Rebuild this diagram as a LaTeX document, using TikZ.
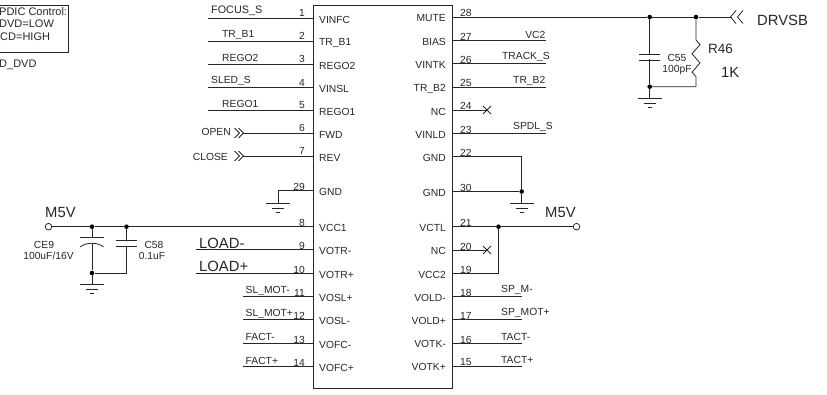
\documentclass[tikz,border=0pt]{standalone}
\usepackage{fontspec}
\setmainfont{Liberation Sans}
\tikzset{
  wire/.style={line width=0.8pt, black!85},
  dotnode/.style={circle, fill=black, inner sep=0pt, minimum size=4.6pt},
  portnode/.style={circle, draw=black!85, fill=white, line width=0.8pt, inner sep=0pt, minimum size=6.6pt},
  txt/.style={inner sep=0pt, text=black!85, font=\fontsize{10.3}{10}\selectfont},
  sig/.style={txt, anchor=west},
  pinin/.style={txt, anchor=west},
  pinout/.style={txt, anchor=east},
  numl/.style={txt, anchor=east},
  numr/.style={txt, anchor=west},
  big/.style={inner sep=0pt, text=black!85, anchor=west, font=\fontsize{14.8}{15}\selectfont},
  gndsym/.pic={
    \draw [wire] (-12,0) -- (12,0);
    \draw [wire] (-6,4.6) -- (6,4.6);
    \draw [wire] (-1.8,9.2) -- (1.8,9.2);
  },
  nomark/.pic={
    \draw [wire] (-4,-4) -- (4,4);
    \draw [wire] (-4,4) -- (4,-4);
  },
  capsym/.pic={
    \draw [wire] (-10.5,-3) -- (10.5,-3);
    \draw [wire] (-10.5,3) -- (10.5,3);
  },
  chevr/.pic={
    \draw [wire] (0,-5) -- (5,0) -- (0,5);
    \draw [wire] (4,-5) -- (9,0) -- (4,5);
  }
}
\begin{document}
\begin{tikzpicture}[x=1pt,y=-1pt]
  \useasboundingbox (0,0) rectangle (827,395);
% chip
  \node (ic) at (382.5,196.5) [draw=black!85, line width=0.8pt, minimum width=139pt, minimum height=383pt, inner sep=0pt] {};

% control box
  \draw [wire] (-5,5) rectangle (68.5,52);
  \node (boxa) at (-1,11.5) [txt, anchor=west, font=\fontsize{11}{11}\selectfont] {PDIC Control:};
  \node (boxb) at (-1,23.5) [txt, anchor=west, font=\fontsize{11}{11}\selectfont] {DVD=LOW};
  \node (boxc) at (0,36.5) [txt, anchor=west, font=\fontsize{11}{11}\selectfont] {CD=HIGH};
  \node (boxd) at (-1,64.5) [txt, anchor=west, font=\fontsize{11}{11}\selectfont] {D\_DVD};

% left pins
  \coordinate (pa1) at (313,18);      \coordinate (wa1) at (208,18);
  \coordinate (pa2) at (313,41);      \coordinate (wa2) at (208,41);
  \coordinate (pa3) at (313,64);      \coordinate (wa3) at (208,64);
  \coordinate (pa4) at (313,87.5);    \coordinate (wa4) at (208,87.5);
  \coordinate (pa5) at (313,110.5);   \coordinate (wa5) at (208,110.5);
  \coordinate (pa6) at (313,133);     \coordinate (wa6) at (243,133);
  \coordinate (pa7) at (313,156);     \coordinate (wa7) at (243,156);
  \coordinate (pa29) at (313,190);    \coordinate (wa29) at (278,190);
  \coordinate (pa8) at (313,226.7);
  \coordinate (pa9) at (313,249.5);   \coordinate (wa9) at (196,249.5);
  \coordinate (pa10) at (313,273);    \coordinate (wa10) at (196,273);
  \coordinate (pa11) at (313,296);    \coordinate (wa11) at (243,296);
  \coordinate (pa12) at (313,319.5);  \coordinate (wa12) at (243,319.5);
  \coordinate (pa13) at (313,343);    \coordinate (wa13) at (243,343);
  \coordinate (pa14) at (313,366);    \coordinate (wa14) at (243,366);
  \draw [wire] (wa1) -- (pa1);
  \draw [wire] (wa2) -- (pa2);
  \draw [wire] (wa3) -- (pa3);
  \draw [wire] (wa4) -- (pa4);
  \draw [wire] (wa5) -- (pa5);
  \draw [wire] (wa6) -- (pa6);
  \draw [wire] (wa7) -- (pa7);
  \draw [wire] (wa9) -- (pa9);
  \draw [wire] (wa10) -- (pa10);
  \draw [wire] (wa11) -- (pa11);
  \draw [wire] (wa12) -- (pa12);
  \draw [wire] (wa13) -- (pa13);
  \draw [wire] (wa14) -- (pa14);

  \node (na1) at (305,13) [numl] {1};
  \node (na2) at (305,36) [numl] {2};
  \node (na3) at (305,59) [numl] {3};
  \node (na4) at (305,82.5) [numl] {4};
  \node (na5) at (305,105.5) [numl] {5};
  \node (na6) at (305,128) [numl] {6};
  \node (na7) at (305,151) [numl] {7};
  \node (na29) at (305,186.5) [numl] {29};
  \node (na8) at (305,223) [numl] {8};
  \node (na9) at (305,246) [numl] {9};
  \node (na10) at (305,269.5) [numl] {10};
  \node (na11) at (305,292.5) [numl] {11};
  \node (na12) at (305,316) [numl] {12};
  \node (na13) at (305,339.5) [numl] {13};
  \node (na14) at (305,362.5) [numl] {14};

  \node (ina1) at (319,19.5) [pinin] {VINFC};
  \node (ina2) at (319,42.5) [pinin] {TR\_B1};
  \node (ina3) at (319,65.5) [pinin] {REGO2};
  \node (ina4) at (319,89) [pinin] {VINSL};
  \node (ina5) at (319,112) [pinin] {REGO1};
  \node (ina6) at (319,134.5) [pinin] {FWD};
  \node (ina7) at (319,157.5) [pinin] {REV};
  \node (ina29) at (319,191.5) [pinin] {GND};
  \node (ina8) at (319,228) [pinin] {VCC1};
  \node (ina9) at (319,251) [pinin] {VOTR-};
  \node (ina10) at (319,274.5) [pinin] {VOTR+};
  \node (ina11) at (319,297.5) [pinin] {VOSL+};
  \node (ina12) at (319,321) [pinin] {VOSL-};
  \node (ina13) at (319,344.5) [pinin] {VOFC-};
  \node (ina14) at (319,367.5) [pinin] {VOFC+};

  \node (sa1) at (211,11) [sig, font=\fontsize{10.8}{11}\selectfont] {FOCUS\_S};
  \node (sa2) at (222,35) [sig] {TR\_B1};
  \node (sa3) at (222,57.5) [sig] {REGO2};
  \node (sa4) at (211,81) [sig] {SLED\_S};
  \node (sa5) at (222,104) [sig] {REGO1};
  \node (sa6) at (231,132) [sig, anchor=east] {OPEN};
  \node (sa7) at (228,157) [sig, anchor=east] {CLOSE};
  \node (sa9) at (199,243) [big] {LOAD-};
  \node (sa10) at (199,266) [big] {LOAD+};
  \node (sa11) at (245.5,290.5) [sig] {SL\_MOT-};
  \node (sa12) at (245.5,313.5) [sig] {SL\_MOT+};
  \node (sa13) at (245.5,337) [sig] {FACT-};
  \node (sa14) at (245.5,360.5) [sig] {FACT+};

  \pic at (234.5,133) {chevr};
  \pic at (234.5,156) {chevr};

% pin 29 ground
  \coordinate (g1) at (278,203.5);
  \draw [wire] (pa29) -- (wa29) -- (g1);
  \pic at (g1) {gndsym};

% left supply
  \node (m5l) at (48.5,226.7) [portnode] {};
  \node (m5ltxt) at (45,212) [big] {M5V};
  \node (d1) at (92,226.7) [dotnode] {};
  \node (d2) at (126.5,226.7) [dotnode] {};
  \node (d3) at (92,273) [dotnode] {};
  \coordinate (c9a) at (92,237.7);
  \coordinate (c9b) at (92,243.2);
  \coordinate (g2) at (92,284.5);
  \coordinate (c58) at (126.5,243.7);
  \coordinate (c58b) at (126.5,273);
  \draw [wire] (m5l) -- (d1) -- (d2) -- (pa8);
  \draw [wire] (d1) -- (c9a);
  \draw [wire] (80,237.7) -- (103.5,237.7);
  \draw [wire] (80,247) .. controls (86,242) and (98,242) .. (103.5,247);
  \draw [wire] (c9b) -- (d3) -- (g2);
  \pic at (g2) {gndsym};
  \draw [wire] (d2) -- (c58) -- (c58b) -- (d3);
  \fill [white] (115,241.2) rectangle (138,246.2);
  \pic at (c58) {capsym};
  \node (ce9a) at (44,245) [txt] {CE9};
  \node (ce9b) at (48.5,255.5) [txt] {100uF/16V};
  \node (c58a) at (154,244.5) [txt] {C58};
  \node (c58v) at (152,255.5) [txt] {0.1uF};

% right pins
  \coordinate (pb28) at (452,17);     \coordinate (pb27) at (452,40.5);
  \coordinate (pb26) at (452,63.5);   \coordinate (pb25) at (452,87);
  \coordinate (pb24) at (452,110);    \coordinate (pb23) at (452,133.5);
  \coordinate (pb22) at (452,156.5);  \coordinate (pb30) at (452,191.5);
  \coordinate (pb21) at (452,226.7);  \coordinate (pb20) at (452,250);
  \coordinate (pb19) at (452,273);    \coordinate (pb18) at (452,296);
  \coordinate (pb17) at (452,319);    \coordinate (pb16) at (452,343);
  \coordinate (pb15) at (452,366);
  \coordinate (wb27) at (545.5,40.5);
  \coordinate (wb26) at (545.5,63.5);
  \coordinate (wb25) at (545.5,87);
  \coordinate (wb24) at (487,110);
  \coordinate (wb23) at (545.5,133.5);
  \coordinate (wb20) at (487,250);
  \coordinate (wb18) at (522,296);
  \coordinate (wb17) at (522,319);
  \coordinate (wb16) at (522,343);
  \coordinate (wb15) at (522,366);
  \draw [wire] (pb27) -- (wb27);
  \draw [wire] (pb26) -- (wb26);
  \draw [wire] (pb25) -- (wb25);
  \draw [wire] (pb24) -- (wb24);
  \draw [wire] (pb23) -- (wb23);
  \draw [wire] (pb20) -- (wb20);
  \draw [wire] (pb18) -- (wb18);
  \draw [wire] (pb17) -- (wb17);
  \draw [wire] (pb16) -- (wb16);
  \draw [wire] (pb15) -- (wb15);
  \pic at (wb24) {nomark};
  \pic at (wb20) {nomark};

  \node (nb28) at (460,13) [numr] {28};
  \node (nb27) at (460,36.5) [numr] {27};
  \node (nb26) at (460,59.5) [numr] {26};
  \node (nb25) at (460,83) [numr] {25};
  \node (nb24) at (460,106) [numr] {24};
  \node (nb23) at (460,129.5) [numr] {23};
  \node (nb22) at (460,153) [numr] {22};
  \node (nb30) at (460,188) [numr] {30};
  \node (nb21) at (460,223) [numr] {21};
  \node (nb20) at (460,246.5) [numr] {20};
  \node (nb19) at (460,269.5) [numr] {19};
  \node (nb18) at (460,292.5) [numr] {18};
  \node (nb17) at (460,315.5) [numr] {17};
  \node (nb16) at (460,339.5) [numr] {16};
  \node (nb15) at (460,362.5) [numr] {15};

  \node (inb28) at (446,18.5) [pinout] {MUTE};
  \node (inb27) at (446,41.5) [pinout] {BIAS};
  \node (inb26) at (446,65) [pinout] {VINTK};
  \node (inb25) at (446,88.5) [pinout] {TR\_B2};
  \node (inb24) at (446,111.5) [pinout] {NC};
  \node (inb23) at (446,134.5) [pinout] {VINLD};
  \node (inb22) at (446,158) [pinout] {GND};
  \node (inb30) at (446,192.5) [pinout] {GND};
  \node (inb21) at (446,227.5) [pinout] {VCTL};
  \node (inb20) at (446,251) [pinout] {NC};
  \node (inb19) at (446,274.5) [pinout] {VCC2};
  \node (inb18) at (446,297.5) [pinout] {VOLD-};
  \node (inb17) at (446,320.5) [pinout] {VOLD+};
  \node (inb16) at (446,344) [pinout] {VOTK-};
  \node (inb15) at (446,367) [pinout] {VOTK+};

  \node (sb27) at (545.5,34.5) [sig, anchor=east] {VC2};
  \node (sb26) at (502,57) [sig] {TRACK\_S};
  \node (sb25) at (545.5,81) [sig, anchor=east] {TR\_B2};
  \node (sb23) at (513,127) [sig] {SPDL\_S};
  \node (sb18) at (501,290) [sig] {SP\_M-};
  \node (sb17) at (501,313) [sig] {SP\_MOT+};
  \node (sb16) at (501,337) [sig] {TACT-};
  \node (sb15) at (501,360) [sig] {TACT+};

% gnd pins
  \node (d4) at (521.7,191.5) [dotnode] {};
  \coordinate (g3) at (521.7,203.5);
  \draw [wire] (pb22) -| (d4);
  \draw [wire] (pb30) -- (d4) -- (g3);
  \pic at (g3) {gndsym};

% right supply
  \node (m5r) at (576.5,226.7) [portnode] {};
  \node (m5rtxt) at (545,212) [big] {M5V};
  \node (d5) at (498.5,226.7) [dotnode] {};
  \draw [wire] (pb21) -- (d5) -- (m5r);
  \draw [wire] (pb19) -| (d5);

% mute line
  \node (d6) at (649.7,17) [dotnode] {};
  \node (d7) at (696,17) [dotnode] {};
  \node (d8) at (649.7,86.7) [dotnode] {};
  \coordinate (mend) at (731.5,17);
  \coordinate (c55) at (649.7,57);
  \coordinate (g4) at (649.7,98.7);
  \coordinate (r46a) at (696,40);
  \coordinate (r46b) at (696,76.7);
  \coordinate (r46c) at (696,86.7);
  \draw [wire] (pb28) -- (d6) -- (d7) -- (mend);
  \draw [wire] (736,10.5) -- (730.5,17) -- (736,23.5);
  \draw [wire] (743,10.5) -- (737.5,17) -- (743,23.5);
  \node (drvsb) at (757,20) [big] {DRVSB};
  \draw [wire] (d6) -- (c55) -- (d8) -- (g4);
  \fill [white] (638,54.5) rectangle (661,59.5);
  \pic at (c55) {capsym};
  \pic at (g4) {gndsym};
  \draw [wire] (d7) -- (r46a) -- (700,44.6) -- (692,53.8) -- (700,63) -- (692,72.2) -- (r46b) -- (r46c) -- (d8);
  \node (c55a) at (677,58) [txt] {C55};
  \node (c55v) at (677,69.5) [txt] {100pF};
  \node (r46) at (708,49) [big, font=\fontsize{13.5}{14}\selectfont] {R46};
  \node (r46v) at (721,72) [big] {1K};
\end{tikzpicture}
\end{document}
